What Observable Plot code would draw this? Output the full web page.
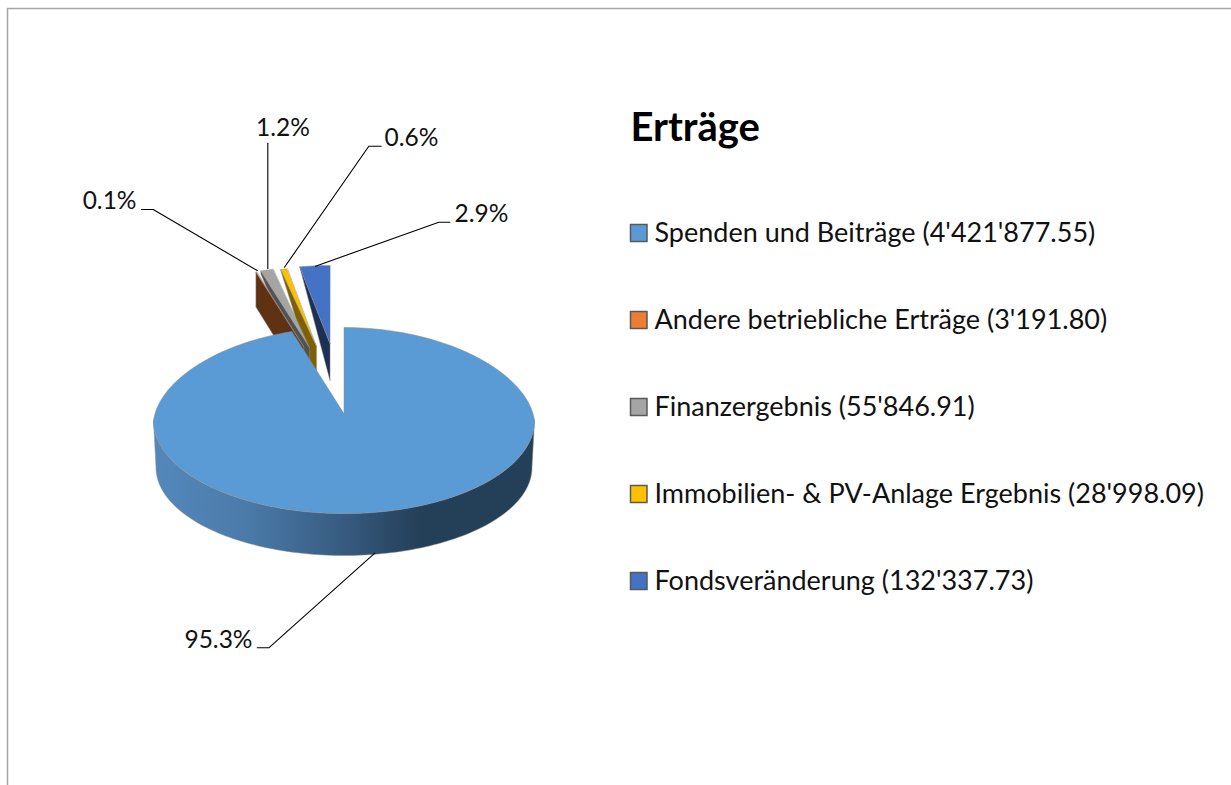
<!DOCTYPE html>
<html>
<head>
<meta charset="utf-8">
<script src="https://cdn.jsdelivr.net/npm/d3@7"></script>
<script src="https://cdn.jsdelivr.net/npm/@observablehq/plot@0.6"></script>
<style>
html,body{margin:0;padding:0;background:#fff;overflow:hidden}
svg{display:block}
</style>
</head>
<body>
<div id="chart"></div>
<script>
const title = "Erträge";
const categories = ["Spenden und Beiträge","Andere betriebliche Erträge","Finanzergebnis","Immobilien- & PV-Anlage Ergebnis","Fondsveränderung"];
const amounts = [4421877.55, 3191.80, 55846.91, 28998.09, 132337.73];
const topColors = ["#5b9bd5","#ed7d31","#a5a5a5","#ffc000","#4472c4"];
const sideColors = ["url(#wall)","#5f3214","#525252","#7f6000","#1d2f53"];

const total = d3.sum(amounts);
const pct = d3.format(".1%");
const money = d3.formatLocale({decimal:".",thousands:"'",grouping:[3]}).format(",.2f");

// Layout of the exploded 3D pie (presentation only; angles come from the amounts)
const slicesLayout = [
  {cx:343.5, cy:420, ax:343.5, ay:413, rx:190.5, ry:93, dOuter:41, dApex:41, persp:0.07},
  {cx:303,   cy:346, ax:303,   ay:346, rx:162,   ry:78, dOuter:35, dApex:37, persp:0},
  {cx:309,   cy:347, ax:309,   ay:347, rx:168,   ry:80, dOuter:3,  dApex:37, persp:0},
  {cx:316,   cy:346, ax:316,   ay:346, rx:165,   ry:79, dOuter:1,  dApex:37, persp:0},
  {cx:329.5, cy:343, ax:329.5, ay:343, rx:170,   ry:78, dOuter:0,  dApex:37, persp:0}
];
const leaderLayout = [
  {pts:[[256.7,647.3],[268.3,647.3],[374.3,552.7]], lx:252, ly:640, anchor:"end"},
  {pts:[[141,209],[152.7,209],[256.7,270]],         lx:136, ly:201, anchor:"end"},
  {pts:[[267.3,142.7],[267.3,268]],                 lx:282.5, ly:128, anchor:"middle"},
  {pts:[[380.7,145.7],[368.3,145.7],[284,266.7]],   lx:384, ly:138, anchor:"start"},
  {pts:[[449.3,221.7],[438.3,221.7],[315,265.7]],   lx:454, ly:214, anchor:"start"}
];

let acc = 0;
const slices = amounts.map((v,i)=>{
  const a0 = acc/total*2*Math.PI; acc += v;
  const a1 = acc/total*2*Math.PI;
  return {i,a0,a1,...slicesLayout[i]};
});
const at = (s,a)=>{
  const f = 1-(s.persp||0)*Math.max(0,Math.cos(a));
  return {x:s.cx+s.rx*f*Math.sin(a), y:s.cy-s.ry*Math.cos(a)};
};
const arc = (s,a0,a1,n=120)=>d3.range(n+1).map(k=>at(s,a0+(a1-a0)*k/n));

const polys = [];
// draw order: far slices first, main slice last
for (const i of [4,3,2,1]) {
  const s = slices[i];
  const o = at(s,s.a0);
  polys.push({fill:sideColors[i], pts:[{x:s.ax,y:s.ay},o,{x:o.x,y:o.y+s.dOuter},{x:s.ax,y:s.ay+s.dApex}]});
  polys.push({fill:topColors[i], pts:[{x:s.ax,y:s.ay},...arc(s,s.a0,s.a1,Math.max(4,Math.round((s.a1-s.a0)*40)))]});
}
const m = slices[0];
const lower = {cx:343.5, cy:467, rx:188, ry:88};
polys.push({fill:sideColors[0], pts:[...arc(m,Math.PI/2,3*Math.PI/2),...arc(lower,3*Math.PI/2,Math.PI/2)]});
polys.push({fill:topColors[0], pts:[{x:m.ax,y:m.ay},...arc(m,m.a0,m.a1,240)]});

const legendY = categories.map((_,i)=>233+87*i);
const legend = categories.map((c,i)=>({label:`${c} (${money(amounts[i])})`,y:legendY[i],color:topColors[i]}));

const wallGradient = () => {
  const defs = d3.create("svg:defs");
  const g = defs.append("linearGradient").attr("id","wall").attr("x1",0).attr("x2",1).attr("y1",0).attr("y2",0);
  [[0,"#5488bc"],[0.25,"#4a7aa8"],[0.5,"#375b80"],[0.7,"#243f58"],[1,"#243f58"]]
    .forEach(([o,c])=>g.append("stop").attr("offset",o).attr("stop-color",c));
  return defs.node();
};

const font = "Lato, Carlito, sans-serif";
const marks = [
  wallGradient,
  Plot.ruleY([8],{x1:7,x2:1231,stroke:"#a6a6a6",strokeWidth:1.5}),
  Plot.ruleX([7],{y1:8,y2:785,stroke:"#a6a6a6",strokeWidth:1.5}),
  ...polys.map(p=>Plot.line(p.pts,{x:"x",y:"y",curve:"linear-closed",fill:p.fill,stroke:"#8c8c8c",strokeWidth:0.6,strokeOpacity:0.8})),
  ...leaderLayout.map(l=>Plot.line(l.pts,{x:d=>d[0],y:d=>d[1],stroke:"#000",strokeWidth:1.1})),
  ...leaderLayout.map((l,i)=>Plot.text([pct(amounts[i]/total)],{x:()=>l.lx,y:()=>l.ly,text:d=>d,textAnchor:l.anchor,lineAnchor:"middle",fontSize:24.5,fill:"#111",fontFamily:font})),
  Plot.text([title],{x:()=>630,y:()=>128,text:d=>d,textAnchor:"start",lineAnchor:"middle",fontSize:40,fontWeight:700,fill:"#000",fontFamily:font}),
  Plot.rect(legend,{x1:()=>630.5,x2:()=>647,y1:d=>d.y-8.5,y2:d=>d.y+8.5,fill:"color",stroke:"#595959",strokeWidth:1.5}),
  Plot.text(legend,{x:()=>654,y:"y",text:"label",textAnchor:"start",lineAnchor:"middle",fontSize:27,fill:"#111",fontFamily:font})
];

const chart = Plot.plot({
  width:1231,height:785,margin:0,
  style:{background:"#fff"},
  x:{domain:[0,1231],range:[0,1231],axis:null},
  y:{domain:[0,785],range:[0,785],axis:null},
  color:{type:"identity"},
  marks
});
document.getElementById("chart").append(chart);
</script>
</body>
</html>
